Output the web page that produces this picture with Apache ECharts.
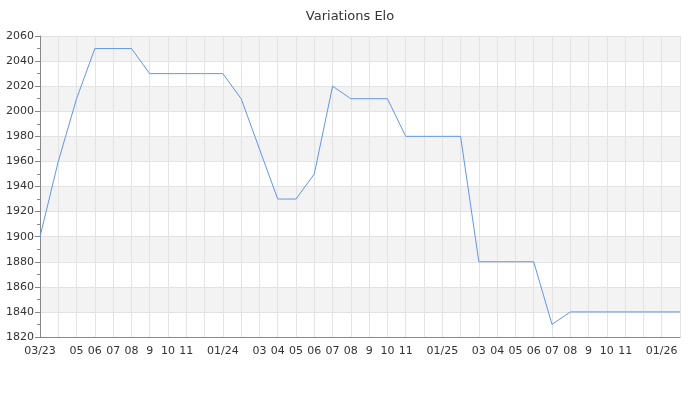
<!DOCTYPE html>
<html>
<head>
<meta charset="utf-8">
<script src="https://cdn.jsdelivr.net/npm/echarts@6/dist/echarts.min.js"></script>
<style>html,body{margin:0;padding:0;background:#fff}#c{width:700px;height:400px}</style>
</head>
<body>
<div id="c"></div>
<script>
const months = ["2023-03","2023-04","2023-05","2023-06","2023-07","2023-08","2023-09","2023-10","2023-11","2023-12",
"2024-01","2024-02","2024-03","2024-04","2024-05","2024-06","2024-07","2024-08","2024-09","2024-10","2024-11","2024-12",
"2025-01","2025-02","2025-03","2025-04","2025-05","2025-06","2025-07","2025-08","2025-09","2025-10","2025-11","2025-12",
"2026-01","2026-02"];
const tickLabels = ["03/23","","05","06","07","08","9","10","11","",
"01/24","","03","04","05","06","07","08","9","10","11","",
"01/25","","03","04","05","06","07","08","9","10","11","",
"01/26",""];
const elo = [1900,1960,2010,2050,2050,2050,2030,2030,2030,2030,
2030,2010,1970,1930,1930,1950,2020,2010,2010,2010,1980,1980,
1980,1980,1880,1880,1880,1880,1830,1840,1840,1840,1840,1840,
1840,1840];

const chart = echarts.init(document.getElementById('c'), null, {renderer:'canvas'});
chart.setOption({
  animation:false,
  title:{text:'Variations Elo', left:'center', top:5, textStyle:{fontSize:13, fontWeight:'normal', color:'#333', fontFamily:'DejaVu Sans'}},
  grid:{left:40, right:20, top:36, bottom:63},
  xAxis:{
    type:'category', data:months, boundaryGap:false,
    axisLine:{lineStyle:{color:'#888'}},
    axisTick:{show:false},
    axisLabel:{interval:0, color:'#333', fontSize:11, fontFamily:'DejaVu Sans', margin:9,
      formatter:(v,i)=>tickLabels[i]},
    splitLine:{show:true, interval:0, lineStyle:{color:'#e3e3e3'}}
  },
  yAxis:{
    type:'value', min:1820, max:2060, interval:20,
    axisLine:{show:true, lineStyle:{color:'#888'}},
    axisTick:{show:true, length:5, lineStyle:{color:'#888'}},
    minorTick:{show:true, splitNumber:2, length:3, lineStyle:{color:'#888'}},
    axisLabel:{color:'#333', fontSize:11, fontFamily:'DejaVu Sans', margin:6, formatter:v=>String(v)},
    splitLine:{show:true, lineStyle:{color:'#e3e3e3'}},
    splitArea:{show:true, areaStyle:{color:['#ffffff','#f3f3f3']}}
  },
  series:[{type:'line', data:elo, showSymbol:false, symbol:'none',
    lineStyle:{color:'#6495ED', width:1}}]
});
</script>
</body>
</html>
